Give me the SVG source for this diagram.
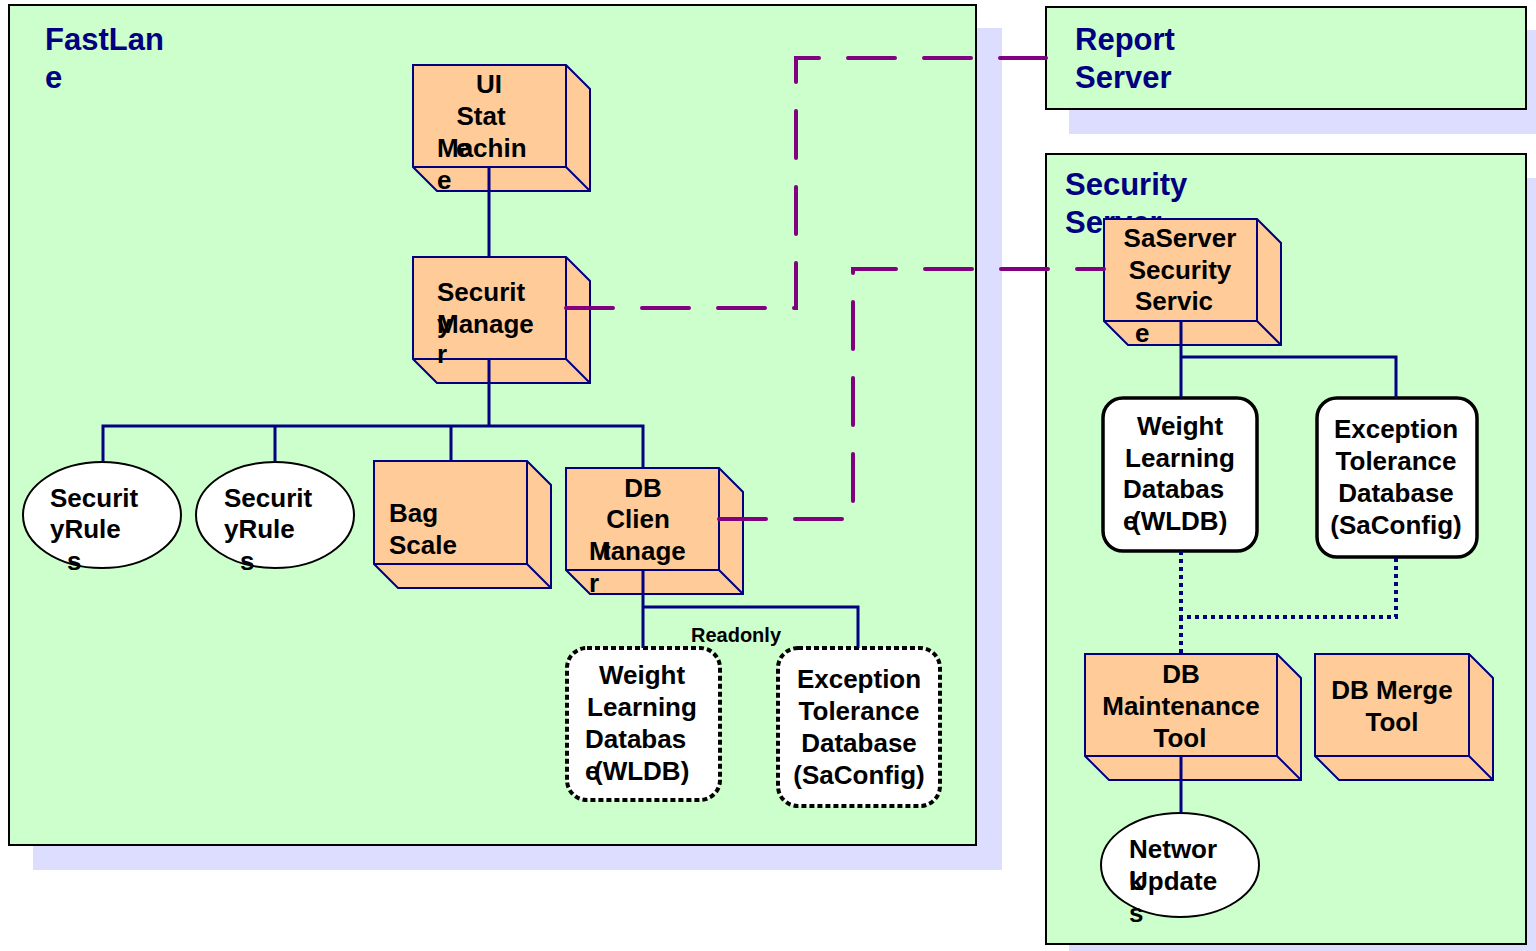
<svg xmlns="http://www.w3.org/2000/svg" width="1536" height="951" viewBox="0 0 1536 951">
<style>
.shadow{fill:#ddddff}
.frame{fill:#ccffcc;stroke:#000;stroke-width:2}
.title{font-family:"Liberation Sans",Arial,sans-serif;font-weight:bold;font-size:31px;fill:#000080}
.box{fill:#ffcc99;stroke:#000080;stroke-width:2;stroke-linejoin:miter}
.edge{fill:none;stroke:#000080;stroke-width:2}
.lbl{font-family:"Liberation Sans",Arial,sans-serif;font-weight:bold;font-size:26px;fill:#000}
.c{text-anchor:middle}
.ell{fill:#fff;stroke:#000;stroke-width:2}
.rr{fill:#fff;stroke:#000;stroke-width:3.5}
.rrd{fill:#fff;stroke:#000;stroke-width:4;stroke-dasharray:5 3}
.nav{fill:none;stroke:#000080;stroke-width:3}
.dot{fill:none;stroke:#000080;stroke-width:4;stroke-dasharray:4 4}
.pur{fill:none;stroke:#800080;stroke-width:4;stroke-linecap:round;stroke-dasharray:47 29}
.small{font-family:"Liberation Sans",Arial,sans-serif;font-weight:bold;font-size:20px;fill:#000}
</style>
<rect width="1536" height="951" fill="#fff"/>
<g id="frames">
<rect class="shadow" x="33" y="28" width="969" height="842"/>
<rect class="frame" x="9" y="5" width="967" height="840"/>
<text class="title" x="45" y="50">FastLan</text>
<text class="title" x="45" y="88">e</text>
<rect class="shadow" x="1069" y="30" width="480" height="104"/>
<rect class="frame" x="1046" y="7" width="480" height="102"/>
<text class="title" x="1075" y="50">Report</text>
<text class="title" x="1075" y="88">Server</text>
<rect class="shadow" x="1069" y="178" width="480" height="790"/>
<rect class="frame" x="1046" y="154" width="480" height="790"/>
<text class="title" x="1065" y="195">Security</text>
<text class="title" x="1065" y="233">Server</text>
</g>
<g id="ui-state-machine">
<path class="box" d="M413,65 H566 L590,89 V191 H437 L413,167 Z"/>
<path class="edge" d="M566,65 V167 H413 M566,167 L590,191"/>
<text class="lbl c" x="489" y="93">UI</text>
<text class="lbl c" x="481" y="125">Stat</text>
<text class="lbl" x="437" y="157">Machin</text>
<text class="lbl" x="456" y="157">e</text>
<text class="lbl" x="437" y="189">e</text>
</g>
<g id="security-manager">
<path class="box" d="M413,257 H566 L590,281 V383 H437 L413,359 Z"/>
<path class="edge" d="M566,257 V359 H413 M566,359 L590,383"/>
<text class="lbl" x="437" y="301">Securit</text>
<text class="lbl" x="437" y="333">y</text>
<text class="lbl" x="437" y="333">Manage</text>
<text class="lbl" x="437" y="363">r</text>
</g>
<g id="security-rules-1">
<ellipse class="ell" cx="102" cy="515" rx="79" ry="53"/>
<text class="lbl" x="50" y="507">Securit</text>
<text class="lbl" x="50" y="538">yRule</text>
<text class="lbl" x="67" y="570">s</text>
</g>
<g id="security-rules-2">
<ellipse class="ell" cx="275" cy="515" rx="79" ry="53"/>
<text class="lbl" x="224" y="507">Securit</text>
<text class="lbl" x="224" y="538">yRule</text>
<text class="lbl" x="240" y="570">s</text>
</g>
<g id="bag-scale">
<path class="box" d="M374,461 H527 L551,485 V588 H398 L374,564 Z"/>
<path class="edge" d="M527,461 V564 H374 M527,564 L551,588"/>
<text class="lbl" x="389" y="522">Bag</text>
<text class="lbl" x="389" y="554">Scale</text>
</g>
<g id="db-client-manager">
<path class="box" d="M566,468 H719 L743,492 V594 H590 L566,570 Z"/>
<path class="edge" d="M719,468 V570 H566 M719,570 L743,594"/>
<text class="lbl c" x="643" y="497">DB</text>
<text class="lbl c" x="638" y="528">Clien</text>
<text class="lbl" x="589" y="560">Manage</text>
<text class="lbl" x="602" y="560">t</text>
<text class="lbl" x="589" y="592">r</text>
</g>
<g id="wldb-readonly">
<rect class="rrd" x="567" y="648" width="153" height="152" rx="20"/>
<text class="lbl c" x="642" y="684">Weight</text>
<text class="lbl c" x="642" y="716">Learning</text>
<text class="lbl" x="585" y="748">Databas</text>
<text class="lbl" x="585" y="780">e</text>
<text class="lbl" x="594" y="780">(WLDB)</text>
</g>
<g id="saconfig-readonly">
<rect class="rrd" x="778" y="648" width="162" height="158" rx="20"/>
<text class="lbl c" x="859" y="688">Exception</text>
<text class="lbl c" x="859" y="720">Tolerance</text>
<text class="lbl c" x="859" y="752">Database</text>
<text class="lbl c" x="859" y="784">(SaConfig)</text>
</g>
<g id="saserver-security-service">
<path class="box" d="M1104,219 H1257 L1281,243 V345 H1128 L1104,321 Z"/>
<path class="edge" d="M1257,219 V321 H1104 M1257,321 L1281,345"/>
<text class="lbl c" x="1180" y="247">SaServer</text>
<text class="lbl c" x="1180" y="279">Security</text>
<text class="lbl" x="1135" y="310">Servic</text>
<text class="lbl" x="1135" y="342">e</text>
</g>
<g id="wldb">
<rect class="rr" x="1103" y="398" width="154" height="153" rx="20"/>
<text class="lbl c" x="1180" y="435">Weight</text>
<text class="lbl c" x="1180" y="467">Learning</text>
<text class="lbl" x="1123" y="498">Databas</text>
<text class="lbl" x="1123" y="530">e</text>
<text class="lbl" x="1132" y="530">(WLDB)</text>
</g>
<g id="saconfig">
<rect class="rr" x="1317" y="398" width="160" height="159" rx="20"/>
<text class="lbl c" x="1396" y="438">Exception</text>
<text class="lbl c" x="1396" y="470">Tolerance</text>
<text class="lbl c" x="1396" y="502">Database</text>
<text class="lbl c" x="1396" y="534">(SaConfig)</text>
</g>
<g id="db-maintenance-tool">
<path class="box" d="M1085,654 H1277 L1301,678 V780 H1109 L1085,756 Z"/>
<path class="edge" d="M1277,654 V756 H1085 M1277,756 L1301,780"/>
<text class="lbl c" x="1181" y="683">DB</text>
<text class="lbl c" x="1181" y="715">Maintenance</text>
<text class="lbl c" x="1180" y="747">Tool</text>
</g>
<g id="db-merge-tool">
<path class="box" d="M1315,654 H1469 L1493,678 V780 H1339 L1315,756 Z"/>
<path class="edge" d="M1469,654 V756 H1315 M1469,756 L1493,780"/>
<text class="lbl c" x="1392" y="699">DB Merge</text>
<text class="lbl c" x="1392" y="731">Tool</text>
</g>
<g id="network-updates">
<ellipse class="ell" cx="1180" cy="865" rx="79" ry="52"/>
<text class="lbl" x="1129" y="858">Networ</text>
<text class="lbl" x="1129" y="890">k</text>
<text class="lbl" x="1129" y="890">Update</text>
<text class="lbl" x="1129" y="922">s</text>
</g>
<g id="connectors">
<path class="nav" d="M489,167 V257"/>
<path class="nav" d="M489,359 V426 M103,462 V426 H643 V468 M275,426 V462 M451,426 V461"/>
<path class="nav" d="M643,570 V648 M643,607 H858 V648"/>
<text class="small" x="691" y="642">Readonly</text>
<path class="nav" d="M1181,321 V398 M1181,357 H1396 V398"/>
<path class="dot" d="M1181,551 V617 H1396 V557 M1181,617 V654"/>
<path class="nav" d="M1181,756 V813"/>
<path class="pur" d="M566,308 H796 V58 H1046"/>
<path class="pur" d="M719,519 H853 V269 H1104"/>
</g>
</svg>
